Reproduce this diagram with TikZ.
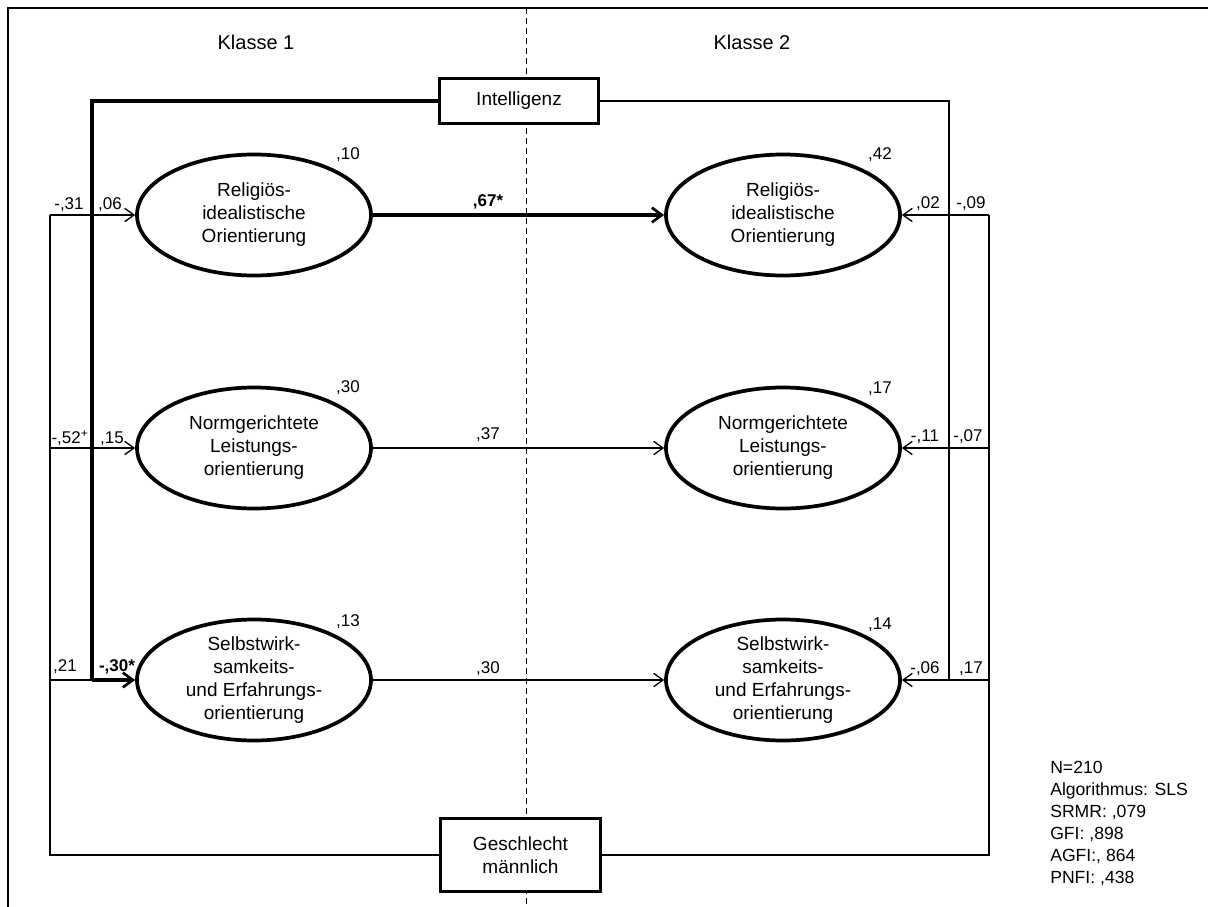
\documentclass[tikz,border=0pt]{standalone}
\usepackage{fontspec}
\setmainfont{Liberation Sans}
\usetikzlibrary{shapes.geometric,arrows.meta}

\begin{document}
\begin{tikzpicture}[x=0.75pt,y=-0.75pt,
  frameln/.style={line width=2.2pt,line cap=rect},
  thickln/.style={line width=2.3pt},
  thinln/.style={line width=1pt},
  barb/.style={-{Straight Barb[length=7pt,width=10pt,line width=1pt]}},
  barbthick/.style={-{Straight Barb[length=7.5pt,width=11pt,line width=2pt]}},
  divider/.style={line width=0.75pt,dash pattern=on 4.5pt off 3pt},
  latent/.style={ellipse,draw,line width=2.8pt,fill=white,
    minimum width=175.5pt,minimum height=90.75pt,inner sep=0pt},
  ltext/.style={align=center,inner sep=0pt,
    font=\fontsize{14.25}{17.25}\selectfont},
  manifest/.style={draw,line width=2.6pt,fill=white,align=center,inner sep=0pt,
    font=\fontsize{14.25}{17.25}\selectfont},
  coef/.style={inner sep=0pt,text height=9.1pt,text depth=0pt,
    font=\fontsize{12.75}{15}\selectfont},
  heading/.style={inner sep=0pt,font=\fontsize{15}{18}\selectfont},
  fit indices/.style={inner sep=0pt,align=left,anchor=north west,
    font=\fontsize{13.2}{16.5}\selectfont}
]
\useasboundingbox (0,0) rectangle (1208,907);

% outer frame (top and left edges only)
\coordinate (fTR) at (1208,8);
\coordinate (fTL) at (8,8);
\coordinate (fBL) at (8,907);
\draw[frameln] (fTR) -- (fTL) -- (fBL);

% dashed divider between the two classes
\coordinate (dT) at (526,8);
\coordinate (dB) at (526,907);
\draw[divider] (dT) -- (dB);

% headings
\node[heading] (k1) at (256,42) {Klasse 1};
\node[heading] (k2) at (752,42) {Klasse 2};

% latent variables
\node[latent] (L1) at (254,215) {};
\node[latent] (L2) at (254,448) {};
\node[latent] (L3) at (254,680) {};
\node[latent] (R1) at (783,215) {};
\node[latent] (R2) at (783,448) {};
\node[latent] (R3) at (783,680) {};

\node[ltext] (L1t) at (L1) {Religiös-\\idealistische\\Orientierung};
\node[ltext] (L2t) at (L2) {Normgerichtete\\Leistungs-\\orientierung};
\node[ltext] (L3t) at (L3) {Selbstwirk-\\samkeits-\\und Erfahrungs-\\orientierung};
\node[ltext] (R1t) at (R1) {Religiös-\\idealistische\\Orientierung};
\node[ltext] (R2t) at (R2) {Normgerichtete\\Leistungs-\\orientierung};
\node[ltext] (R3t) at (R3) {Selbstwirk-\\samkeits-\\und Erfahrungs-\\orientierung};

% manifest covariates
\node[manifest,minimum width=119.5pt,minimum height=34pt] (I) at (519,101) {Intelligenz};
\node[manifest,minimum width=120pt,minimum height=55pt] (G) at (520.5,855) {Geschlecht\\männlich};

% junction points of the covariate paths
\coordinate (jL1) at (92,215);
\coordinate (jL2) at (92,448);
\coordinate (jL3) at (92,680);
\coordinate (gL1) at (50,215);
\coordinate (gL2) at (50,448);
\coordinate (gL3) at (50,680);
\coordinate (jR1) at (949,215);
\coordinate (jR2) at (949,448);
\coordinate (jR3) at (949,680);
\coordinate (gR1) at (989,215);
\coordinate (gR2) at (989,448);
\coordinate (gR3) at (989,680);

% Klasse 1: intelligence (thick) and sex (thin)
\draw[thinln] (G.west) -| (gL1);
\draw[thinln,barb] (gL1) -- (L1.west);
\draw[thinln,barb] (gL2) -- (L2.west);
\draw[thinln] (gL3) -- (jL3);
\draw[thickln] (I.west) -| (jL3);
\draw[thickln,barbthick] (jL3) -- (L3.west);

% Klasse 2
\draw[thinln] (I.east) -| (jR3);
\draw[thinln] (G.east) -| (gR1);
\draw[thinln,barb] (gR1) -- (R1.east);
\draw[thinln,barb] (gR2) -- (R2.east);
\draw[thinln,barb] (gR3) -- (R3.east);

% stability paths between the classes
\draw[thickln,barbthick] (L1.east) -- (R1.west);
\draw[thinln,barb] (L2.east) -- (R2.west);
\draw[thinln,barb] (L3.east) -- (R3.west);

% path coefficients
\node[coef] (c1) at (69,203) {-,31};
\node[coef] (c2) at (110,203) {,06};
\node[coef] (c3) at (70,437) {-,52\textsuperscript{+}};
\node[coef] (c4) at (112,437) {,15};
\node[coef] (c5) at (65,665) {,21};
\node[coef] (c6) at (117,665) {\bfseries -,30*};
\node[coef] (c7) at (928,202) {,02};
\node[coef] (c8) at (971,202) {-,09};
\node[coef] (c9) at (925,435) {-,11};
\node[coef] (c10) at (968,435) {-,07};
\node[coef] (c11) at (925,667) {-,06};
\node[coef] (c12) at (971,667) {,17};
\node[coef] (c13) at (488,200) {\bfseries ,67*};
\node[coef] (c14) at (488,433) {,37};
\node[coef] (c15) at (488,667) {,30};

% explained variance
\node[coef] (r1) at (348,153) {,10};
\node[coef] (r2) at (348,386) {,30};
\node[coef] (r3) at (348,620) {,13};
\node[coef] (r4) at (880,153) {,42};
\node[coef] (r5) at (880,387) {,17};
\node[coef] (r6) at (880,623) {,14};

% model fit
\node[fit indices] (fit) at (1050,761) {N=210\\Algorithmus: SLS\\SRMR: ,079\\GFI: ,898\\AGFI:, 864\\PNFI: ,438};
\end{tikzpicture}
\end{document}
